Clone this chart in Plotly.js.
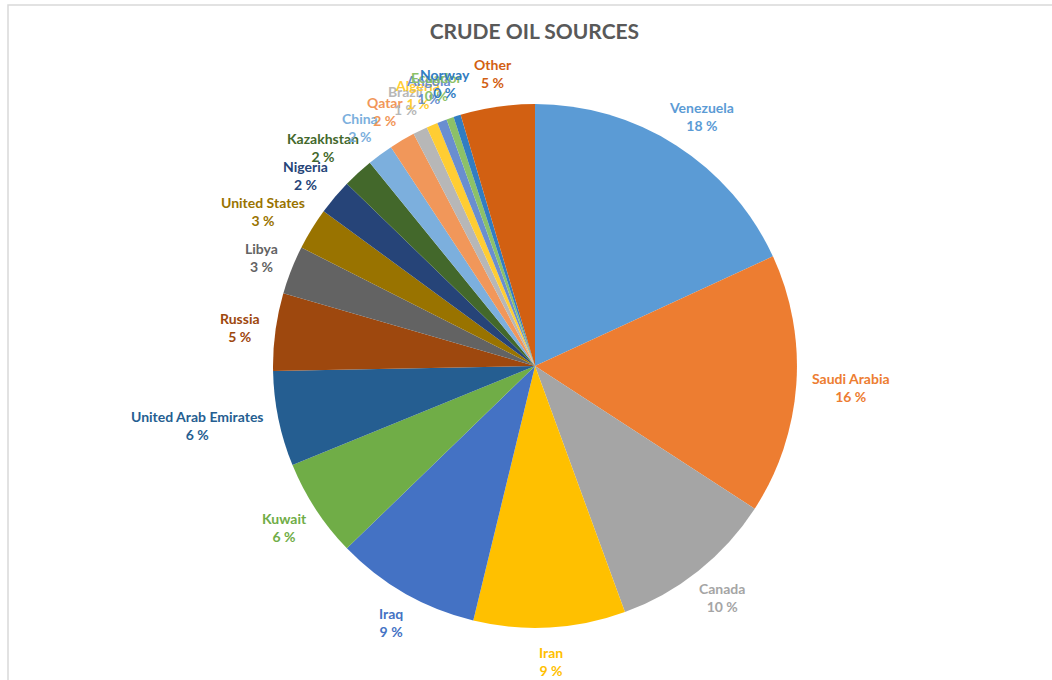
<!DOCTYPE html>
<html><head><meta charset="utf-8">
<script src="https://cdn.plot.ly/plotly-3.0.1.min.js"></script>
<style>html,body{margin:0;padding:0;background:#fff}#chart{width:1052px;height:680px}</style>
</head><body><div id="chart"></div>
<script>
const countries = ["Venezuela","Saudi Arabia","Canada","Iran","Iraq","Kuwait","United Arab Emirates","Russia","Libya","United States","Nigeria","Kazakhstan","China","Qatar","Brazil","Algeria","Angola","Ecuador","Norway","Other"];
const shares = [18.2,16.1,10.3,9.4,9.0,6.1,5.9,4.8,3.0,2.6,2.2,1.9,1.6,1.6,0.9,0.7,0.6,0.45,0.45,4.6];
const sliceColors = ["#5B9BD5","#ED7D31","#A5A5A5","#FFC000","#4472C4","#70AD47","#255E91","#9E480E","#636363","#997300","#264478","#43682B","#7CAFDD","#F1975A","#B7B7B7","#FFCD33","#698ED0","#8CC168","#327DC2","#D26012"];

const W = 1052, H = 680;
const domX = [0.2595, 0.7576], domY = [0.0765, 0.847];
const FONT = "Lato, 'Open Sans', sans-serif";
const total = shares.reduce((a,b)=>a+b,0);
const pctText = shares.map(v => Math.round(v/total*100) + " %");

const trace = {
  type: "pie",
  labels: countries,
  values: shares,
  sort: false,
  direction: "clockwise",
  rotation: 0,
  marker: {colors: sliceColors, line: {width: 0}},
  textinfo: "none",
  hoverinfo: "label+percent",
  domain: {x: domX, y: domY},
  showlegend: false
};

// data labels placed around the pie at each slice's mid-angle (derived from the values)
const ctx = document.createElement("canvas").getContext("2d");
ctx.font = "bold 14px Lato";
const cx = (domX[0]+domX[1])/2, cy = (domY[0]+domY[1])/2;
const R = Math.min((domX[1]-domX[0])*W, (domY[1]-domY[0])*H)/2;
const annotations = [];
let cum = 0;
shares.forEach((v,i) => {
  const mid = (cum + v/2)/total * 2*Math.PI;
  cum += v;
  const s = Math.sin(mid), c = Math.cos(mid);
  const d = R*1.06;
  const w = Math.max(ctx.measureText(countries[i]).width, ctx.measureText(pctText[i]).width);
  const h = 36;
  annotations.push({
    xref: "paper", yref: "paper",
    x: cx + (d*s + s*w/2)/W, y: cy + (d*c + c*h/2)/H,
    text: "<b>" + countries[i] + "</b><br><b>" + pctText[i] + "</b>",
    showarrow: false,
    xanchor: "center", yanchor: "middle",
    align: "center",
    font: {family: FONT, size: 14, color: sliceColors[i]}
  });
});

const layout = {
  width: W, height: H,
  margin: {l: 0, r: 0, t: 0, b: 0},
  paper_bgcolor: "#fff",
  title: {text: "<b>CRUDE OIL SOURCES</b>", font: {family: FONT, size: 21, color: "#595959"}, x: 0.508, xanchor: "center", y: 0.953, yanchor: "middle"},
  showlegend: false,
  annotations: annotations,
  shapes: [{type: "rect", xref: "paper", yref: "paper", x0: 8/W, x1: 1.01, y0: -0.01, y1: 1 - 5/H, line: {color: "#D9D9D9", width: 1.5}, fillcolor: "rgba(0,0,0,0)", layer: "below"}]
};

Plotly.newPlot("chart", [trace], layout, {displayModeBar: false});
</script>
</body></html>
